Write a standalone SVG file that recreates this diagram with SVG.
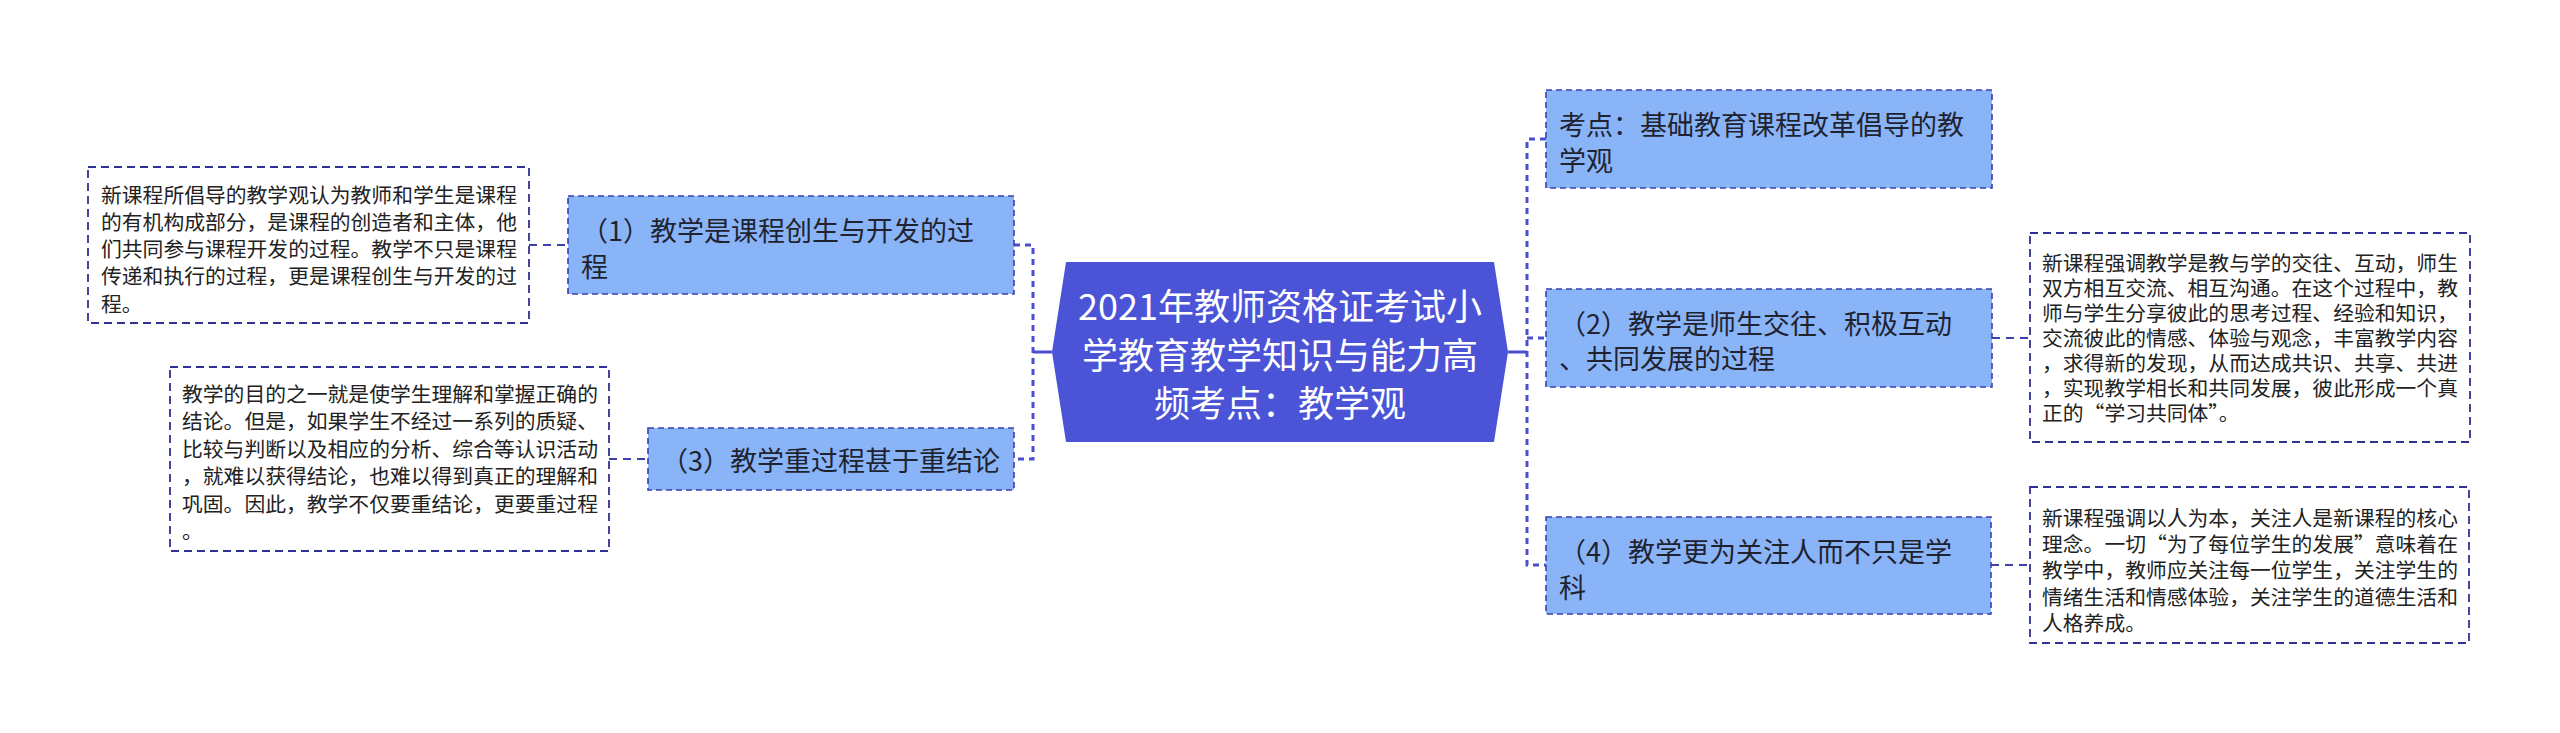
<svg xmlns="http://www.w3.org/2000/svg" width="2560" height="733" viewBox="0 0 2560 733">
<style>
.bg{fill:#ffffff}
.hex{fill:#4b53d6}
.ttl{font-family:"Noto Sans CJK SC","Noto Sans",sans-serif;font-size:36px;fill:#ffffff;text-anchor:middle;dominant-baseline:central}
.node{fill:#8ab4f8;stroke:#3b3fae;stroke-width:1.6;stroke-dasharray:6 4}
.nt{font-family:"Noto Sans CJK SC","Noto Sans",sans-serif;font-size:27px;fill:#1f2330;dominant-baseline:central}
.det{fill:#ffffff;stroke:#2f3291;stroke-width:1.8;stroke-dasharray:8 5}
.dt{font-family:"Noto Sans CJK SC","Noto Sans",sans-serif;font-size:20.8px;fill:#222222;dominant-baseline:central}
.trunk{fill:none;stroke:#4a4fd2;stroke-width:3;stroke-dasharray:6 5}
.stub{fill:none;stroke:#4a4fd2;stroke-width:3}
.link{fill:none;stroke:#3d40ac;stroke-width:2;stroke-dasharray:8 6}
</style>
<rect class="bg" x="0" y="0" width="2560" height="733"/>
<g id="connectors">
<path class="trunk" d="M1014 245 H1033 V459 H1014"/>
<path class="stub" d="M1052 352 H1033"/>
<path class="trunk" d="M1546 139 H1527 V565 H1546"/>
<path class="trunk" d="M1527 338 H1546"/>
<path class="stub" d="M1508 352 H1527"/>
<path class="link" d="M529 245 H568"/>
<path class="link" d="M609 459 H648"/>
<path class="link" d="M1992 338 H2030"/>
<path class="link" d="M1991 565 H2030"/>
</g>
<g id="center">
<polygon class="hex" points="1052,352 1066,262 1494,262 1508,352 1494,442 1066,442"/>
<text class="ttl" x="1280" y="304">2021年教师资格证考试小</text>
<text class="ttl" x="1280" y="352.5">学教育教学知识与能力高</text>
<text class="ttl" x="1280" y="401">频考点：教学观</text>
</g>
<g id="node1">
<rect class="node" x="568" y="196" width="446" height="98"/>
<text class="nt" x="581" y="229">（1）教学是课程创生与开发的过</text>
<text class="nt" x="581" y="265">程</text>
</g>
<g id="node3">
<rect class="node" x="648" y="428" width="366" height="62"/>
<text class="nt" x="661" y="459.5">（3）教学重过程甚于重结论</text>
</g>
<g id="node0">
<rect class="node" x="1546" y="90" width="446" height="98"/>
<text class="nt" x="1559" y="123">考点：基础教育课程改革倡导的教</text>
<text class="nt" x="1559" y="159">学观</text>
</g>
<g id="node2">
<rect class="node" x="1546" y="289" width="446" height="98"/>
<text class="nt" x="1559" y="322">（2）教学是师生交往、积极互动</text>
<text class="nt" x="1559" y="357">、共同发展的过程</text>
</g>
<g id="node4">
<rect class="node" x="1546" y="517" width="445" height="97"/>
<text class="nt" x="1559" y="550">（4）教学更为关注人而不只是学</text>
<text class="nt" x="1559" y="586">科</text>
</g>
<g id="detail1">
<rect class="det" x="88" y="167" width="441" height="156"/>
<text class="dt" x="101" y="193.5">新课程所倡导的教学观认为教师和学生是课程</text>
<text class="dt" x="101" y="220.8">的有机构成部分，是课程的创造者和主体，他</text>
<text class="dt" x="101" y="248.1">们共同参与课程开发的过程。教学不只是课程</text>
<text class="dt" x="101" y="275.4">传递和执行的过程，更是课程创生与开发的过</text>
<text class="dt" x="101" y="302.7">程。</text>
</g>
<g id="detail3">
<rect class="det" x="170" y="367" width="439" height="184"/>
<text class="dt" x="182" y="393">教学的目的之一就是使学生理解和掌握正确的</text>
<text class="dt" x="182" y="420.4">结论。但是，如果学生不经过一系列的质疑、</text>
<text class="dt" x="182" y="447.8">比较与判断以及相应的分析、综合等认识活动</text>
<text class="dt" x="182" y="475.2">，就难以获得结论，也难以得到真正的理解和</text>
<text class="dt" x="182" y="502.6">巩固。因此，教学不仅要重结论，更要重过程</text>
<text class="dt" x="182" y="530">。</text>
</g>
<g id="detail2">
<rect class="det" x="2030" y="233" width="440" height="209"/>
<text class="dt" x="2042" y="261.7">新课程强调教学是教与学的交往、互动，师生</text>
<text class="dt" x="2042" y="286.7">双方相互交流、相互沟通。在这个过程中，教</text>
<text class="dt" x="2042" y="311.7">师与学生分享彼此的思考过程、经验和知识，</text>
<text class="dt" x="2042" y="336.7">交流彼此的情感、体验与观念，丰富教学内容</text>
<text class="dt" x="2042" y="361.7">，求得新的发现，从而达成共识、共享、共进</text>
<text class="dt" x="2042" y="386.7">，实现教学相长和共同发展，彼此形成一个真</text>
<text class="dt" x="2042" y="411.7">正的“学习共同体”。</text>
</g>
<g id="detail4">
<rect class="det" x="2030" y="487" width="439" height="156"/>
<text class="dt" x="2042" y="516.7">新课程强调以人为本，关注人是新课程的核心</text>
<text class="dt" x="2042" y="543">理念。一切“为了每位学生的发展”意味着在</text>
<text class="dt" x="2042" y="569.3">教学中，教师应关注每一位学生，关注学生的</text>
<text class="dt" x="2042" y="595.6">情绪生活和情感体验，关注学生的道德生活和</text>
<text class="dt" x="2042" y="621.9">人格养成。</text>
</g>
</svg>
